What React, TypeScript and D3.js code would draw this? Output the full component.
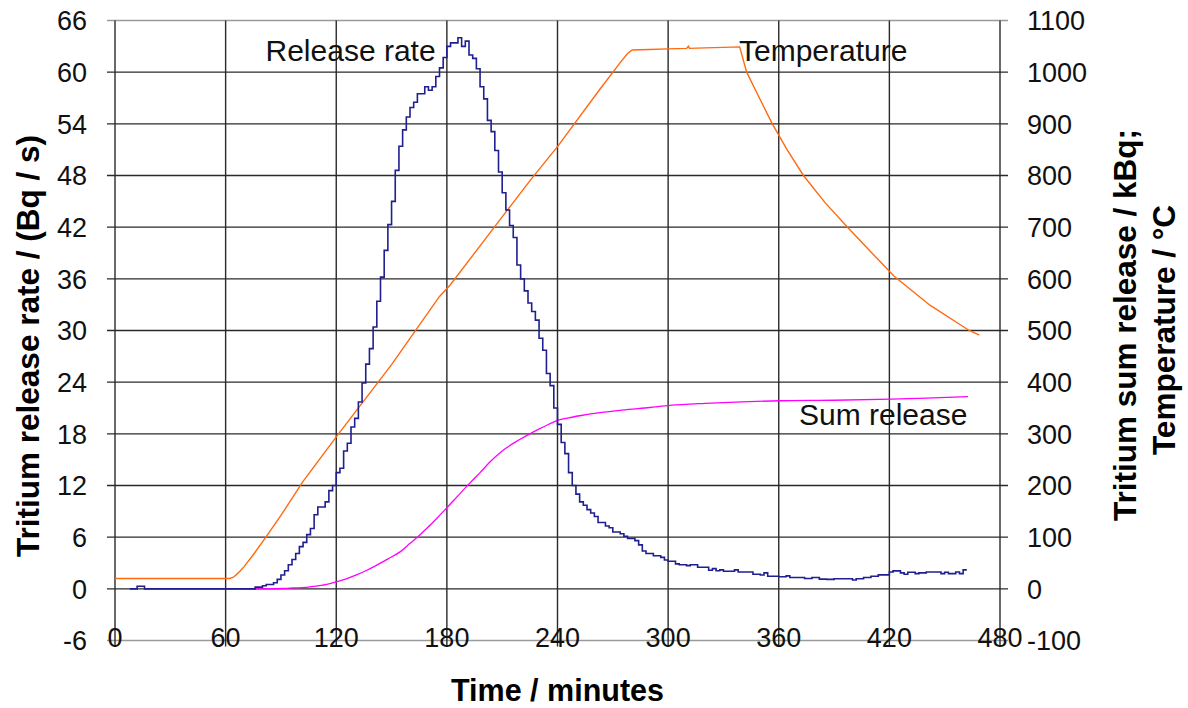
import React from 'react';
import * as d3 from 'd3';

// ---------- data ----------
const X_TICKS = [0, 60, 120, 180, 240, 300, 360, 420, 480];
const Y_LEFT_TICKS = [-6, 0, 6, 12, 18, 24, 30, 36, 42, 48, 54, 60, 66];
const Y_RIGHT_TICKS = [-100, 0, 100, 200, 300, 400, 500, 600, 700, 800, 900, 1000, 1100];

// Tritium release rate (Bq/s), 2-minute steps starting at t = 8 min
const RELEASE_START = 8;
const RELEASE_STEP = 2;
const RELEASE_END = 462;
const RELEASE_VALUES = [
  0, 0, 0.3, 0.3, 0, 0, 0, 0, 0, 0,
  0, 0, 0, 0, 0, 0, 0, 0, 0, 0,
  0, 0, 0, 0, 0, 0, 0, 0, 0, 0,
  0, 0, 0, 0, 0.2, 0.2, 0.35, 0.5, 0.5, 0.7,
  1.1, 1.6, 2.1, 2.8, 3.4, 4.1, 4.9, 5.4, 6.3, 7.0,
  8.6, 9.5, 9.5, 10.1, 11.4, 12.0, 13.5, 14.0, 16.0, 16.9,
  18.8, 19.8, 21.7, 23.9, 26.1, 27.9, 30.4, 33.4, 36.2, 39.3,
  42.3, 45.0, 48.6, 51.4, 53.3, 54.8, 55.9, 56.5, 57.5, 57.5,
  58.3, 57.9, 58.3, 59.5, 60.5, 61.7, 63.0, 63.4, 63.4, 64.0,
  63.0, 63.6, 62.0, 61.6, 60.4, 58.3, 56.9, 54.4, 53.1, 50.9,
  48.4, 46.0, 44.0, 42.2, 40.8, 37.6, 36.0, 34.6, 33.2, 32.2,
  31.2, 29.1, 27.7, 25.0, 23.6, 21.0, 19.1, 17.0, 15.7, 13.5,
  12.0, 11.0, 10.1, 9.7, 9.2, 8.8, 8.4, 7.7, 7.7, 7.3,
  7.1, 6.6, 6.6, 6.4, 6.1, 5.85, 5.85, 5.6, 5.1, 4.4,
  4.1, 4.1, 3.85, 3.85, 3.65, 3.35, 3.2, 3.2, 2.9, 2.8,
  2.8, 2.7, 2.8, 2.8, 2.5, 2.5, 2.5, 2.15, 2.35, 2.1,
  2.2, 2.05, 2.05, 2.05, 2.2, 1.96, 1.96, 1.96, 1.96, 1.7,
  1.7, 1.6, 1.85, 1.47, 1.47, 1.47, 1.4, 1.4, 1.5, 1.32,
  1.32, 1.32, 1.32, 1.2, 1.2, 1.32, 1.32, 1.13, 1.13, 1.1,
  1.1, 1.17, 1.17, 1.17, 1.17, 1.17, 1.02, 1.17, 1.17, 1.32,
  1.32, 1.47, 1.47, 1.62, 1.62, 1.62, 1.96, 2.08, 2.08, 1.85,
  1.7, 1.92, 1.92, 1.77, 1.85, 1.85, 1.96, 1.96, 1.96, 1.96,
  1.77, 1.92, 1.77, 1.77, 1.96, 1.77, 2.2,
];

// Temperature (°C), right axis
const TEMP_TIME = [
  0, 62, 64, 66, 68, 70, 75, 82.4, 90, 102,
  120, 150, 176, 181.8, 210, 225.3, 240, 263, 273.9, 278,
  280.5, 290, 300, 310, 311, 311.6, 320, 330, 338.8, 342.6,
  349.5, 356.5, 364.5, 373.4, 385, 397.3, 410, 422.6, 442, 463.3,
  468.8,
];
const TEMP_VALUES = [
  20, 20, 22, 28, 35, 43, 66, 103, 142, 208,
  294, 434, 566, 588, 720, 791, 856, 967, 1018, 1036,
  1043, 1044, 1045, 1046, 1050, 1046, 1047, 1048, 1049, 1000,
  950, 900, 850, 800, 748, 700, 652, 605, 549, 500,
  491,
];

// Tritium sum release (kBq), right axis
const SUM_TIME = [
  75, 85, 95, 105, 112, 118.5, 125, 131, 136.6, 142,
  148, 154.8, 160, 164, 170, 175, 180, 186, 192.8, 198,
  203.2, 210, 219.5, 225, 230.4, 235, 240, 246, 252, 263,
  275, 290, 301, 320, 340, 360.5, 390, 421, 440, 462.6,
];
const SUM_VALUES = [
  0, 0.5, 1.5, 3.5, 6.5, 12, 19, 27, 36, 46,
  58, 72, 88, 100, 120, 138, 157, 180, 206, 225,
  245, 267, 289, 300, 310, 318, 326, 331, 335, 341,
  346, 351, 355, 359, 362, 364, 365, 367, 369, 372,
];

// ---------- layout ----------
const W = 1188;
const H = 708;
const FONT = 'Arial, "Liberation Sans", sans-serif';

export default function App() {
  const x = d3.scaleLinear().domain([0, 480]).range([115, 1000]);
  const yL = d3.scaleLinear().domain([-6, 66]).range([640.5, 20.5]);
  const yR = d3.scaleLinear().domain([-100, 1100]).range([640.5, 20.5]);

  const releasePts: [number, number][] = RELEASE_VALUES.map((v, i) => [RELEASE_START + i * RELEASE_STEP, v]);
  releasePts.push([RELEASE_END, RELEASE_VALUES[RELEASE_VALUES.length - 1]]);
  const releaseLine = d3
    .line<[number, number]>()
    .x((d) => x(d[0]))
    .y((d) => yL(d[1]))
    .curve(d3.curveStepAfter)(releasePts) as string;

  const tempPts: [number, number][] = TEMP_TIME.map((t, i) => [t, TEMP_VALUES[i]]);
  const tempLine = d3
    .line<[number, number]>()
    .x((d) => x(d[0]))
    .y((d) => yR(d[1]))(tempPts) as string;

  const sumPts: [number, number][] = SUM_TIME.map((t, i) => [t, SUM_VALUES[i]]);
  const sumLine = d3
    .line<[number, number]>()
    .x((d) => x(d[0]))
    .y((d) => yR(d[1]))
    .curve(d3.curveMonotoneX)(sumPts) as string;

  const [x0, x1] = x.range();
  const yTop = yL(66);
  const yBot = yL(-6);
  const gridColor = '#2a2a2a';

  return (
    <svg
      width={W}
      height={H}
      viewBox={`0 0 ${W} ${H}`}
      style={{ position: 'absolute', left: 0, top: 0, background: '#fff' }}
      fontFamily={FONT}
    >
      <rect x={0} y={0} width={W} height={H} fill="#fff" />

      {/* horizontal gridlines */}
      {Y_LEFT_TICKS.map((t) => {
        const isBorder = t === -6 || t === 66;
        return (
          <line
            key={'hg' + t}
            x1={x0 - 8}
            x2={x1 + 8}
            y1={yL(t)}
            y2={yL(t)}
            stroke={isBorder ? '#9a9a9a' : gridColor}
            strokeWidth={isBorder ? 1.5 : 1.4}
          />
        );
      })}

      {/* vertical gridlines */}
      {X_TICKS.map((t) => (
        <line
          key={'vg' + t}
          x1={x(t)}
          x2={x(t)}
          y1={yTop}
          y2={yBot + 6}
          stroke={gridColor}
          strokeWidth={1.4}
        />
      ))}

      {/* series */}
      <path d={tempLine} fill="none" stroke="#ff6a10" strokeWidth={1.4} />
      <path d={sumLine} fill="none" stroke="#ff00ff" strokeWidth={1.3} />
      <path d={releaseLine} fill="none" stroke="#1f1f8f" strokeWidth={1.6} />

      {/* left tick labels */}
      {Y_LEFT_TICKS.map((t) => (
        <text key={'yl' + t} x={87} y={yL(t)} dy="0.36em" textAnchor="end" fontSize={27} fill="#111">
          {t}
        </text>
      ))}

      {/* right tick labels */}
      {Y_RIGHT_TICKS.map((t) => (
        <text key={'yr' + t} x={1027} y={yR(t)} dy="0.36em" textAnchor="start" fontSize={27} fill="#111">
          {t}
        </text>
      ))}

      {/* x tick labels */}
      {X_TICKS.map((t) => (
        <text key={'xt' + t} x={x(t)} y={646.5} textAnchor="middle" fontSize={27} fill="#111">
          {t}
        </text>
      ))}

      {/* series labels */}
      <text x={265.5} y={61} fontSize={30} fill="#111">Release rate</text>
      <text x={739} y={61} fontSize={30} fill="#111">Temperature</text>
      <text x={799} y={425} fontSize={30} fill="#111">Sum release</text>

      {/* axis titles */}
      <text x={557.5} y={701} textAnchor="middle" fontSize={30.5} fontWeight="bold" fill="#000">
        Time / minutes
      </text>
      <text
        transform="translate(39,346) rotate(-90)"
        textAnchor="middle"
        fontSize={31.5}
        fontWeight="bold"
        fill="#000"
      >
        Tritium release rate / (Bq / s)
      </text>
      <text
        transform="translate(1136,325) rotate(-90)"
        textAnchor="middle"
        fontSize={31.5}
        fontWeight="bold"
        fill="#000"
      >
        Tritium sum release / kBq;
      </text>
      <text
        transform="translate(1175,330) rotate(-90)"
        textAnchor="middle"
        fontSize={31.5}
        fontWeight="bold"
        fill="#000"
      >
        Temperature / °C
      </text>
    </svg>
  );
}
